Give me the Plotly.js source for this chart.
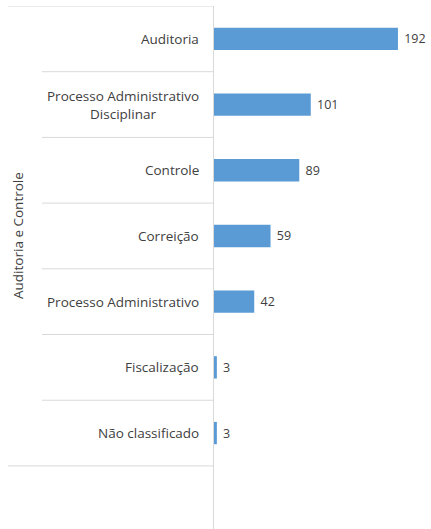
<!DOCTYPE html>
<html>
<head>
<meta charset="utf-8">
<script src="https://cdn.plot.ly/plotly-3.0.1.min.js"></script>
<style>html,body{margin:0;padding:0;background:#fff;}#chart{width:431px;height:529px;}</style>
</head>
<body>
<div id="chart"></div>
<script>
const categories = ["Auditoria", "Processo Administrativo<br>Disciplinar", "Controle", "Correição", "Processo Administrativo", "Fiscalização", "Não classificado"];
const values = [192, 101, 89, 59, 42, 3, 3];
const groupLabel = "Auditoria e Controle";

const barColor = "#5B9BD5";
const gridColor = "#D9D9D9";
const textColor = "#404040";
const fontFamily = "'Open Sans', sans-serif";

const plotLeft = 214, width = 431;
const plotW = width - plotLeft;
function px(p) { return (p - plotLeft) / plotW; }

const trace = {
  type: "bar",
  orientation: "h",
  x: values,
  y: categories,
  marker: { color: barColor },
  width: 0.34,
  text: values.map(v => "\u00a0" + v),
  textposition: "outside",
  cliponaxis: false,
  textfont: { family: fontFamily, size: 12.5, color: textColor },
  hoverinfo: "none"
};

const shapes = [];
for (let i = 0; i < categories.length - 1; i++) {
  shapes.push({ type: "line", xref: "paper", yref: "y", x0: px(42), x1: 0, y0: i + 0.5, y1: i + 0.5, line: { color: gridColor, width: 1 } });
}
shapes.push({ type: "line", xref: "paper", yref: "y", x0: px(8), x1: 0, y0: -0.5, y1: -0.5, line: { color: gridColor, width: 1 } });
shapes.push({ type: "line", xref: "paper", yref: "y", x0: px(8), x1: 0, y0: categories.length - 0.5, y1: categories.length - 0.5, line: { color: gridColor, width: 1 } });

const annotations = categories.map((c, i) => ({
  xref: "paper", yref: "y", x: 0, y: i, xanchor: "right", yanchor: "middle", xshift: -13,
  text: c, showarrow: false, align: "center",
  font: { family: fontFamily, size: 13.5, color: textColor }
}));
annotations.push({
  xref: "paper", yref: "y", x: px(18), y: (categories.length - 1) / 2, xanchor: "center", yanchor: "middle",
  text: groupLabel, textangle: -90, showarrow: false,
  font: { family: fontFamily, size: 13.5, color: textColor }
});

const layout = {
  width: 431, height: 529,
  margin: { l: plotLeft, r: 0, t: 6, b: 0 },
  paper_bgcolor: "#fff", plot_bgcolor: "#fff",
  showlegend: false,
  xaxis: { range: [0, 226.5], showgrid: false, zeroline: false, showticklabels: false, showline: false, ticks: "" },
  yaxis: { type: "category", range: [7.46, -0.5], showgrid: false, zeroline: false, showticklabels: false, showline: true, linecolor: gridColor, linewidth: 1, ticks: "" },
  shapes: shapes,
  annotations: annotations
};

Plotly.newPlot("chart", [trace], layout, { staticPlot: true, displayModeBar: false });
</script>
</body>
</html>
